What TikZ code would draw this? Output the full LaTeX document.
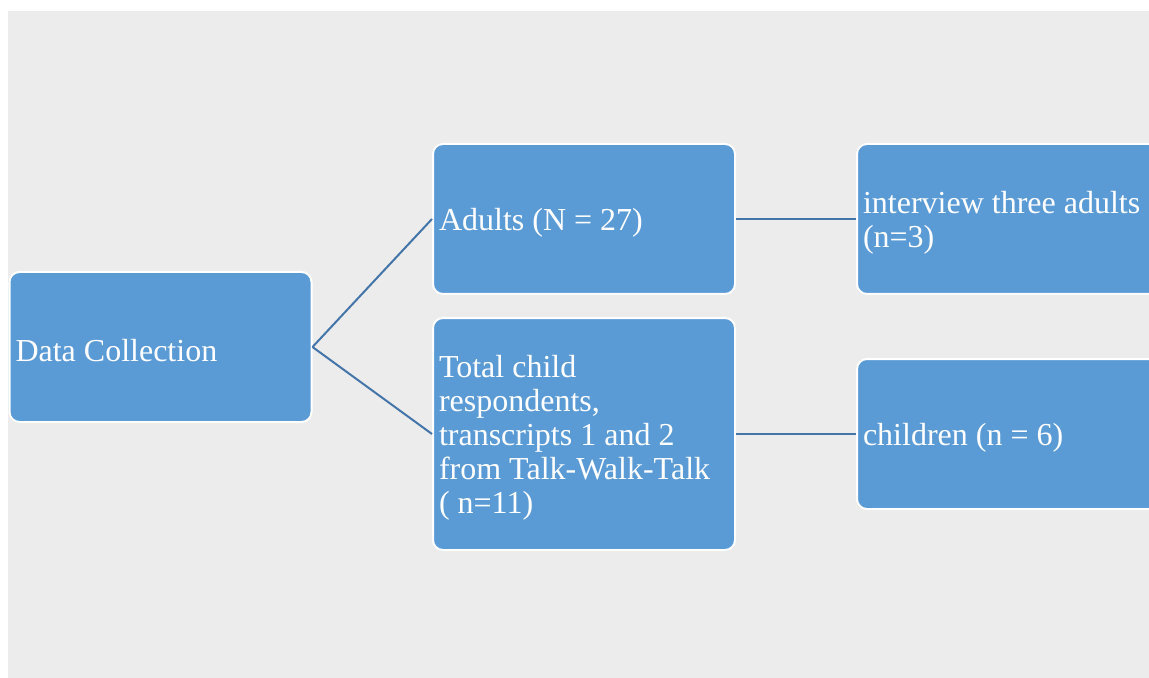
\documentclass[tikz,border=0pt]{standalone}
\usepackage{fontspec}
\setmainfont{Liberation Serif}
\definecolor{boxblue}{RGB}{91, 155, 213}
\definecolor{linkblue}{RGB}{68, 117, 168}
\definecolor{canvasgray}{RGB}{236, 236, 236}
\usetikzlibrary{positioning}

\begin{document}
\begin{tikzpicture}[x=0.5pt, y=-0.5pt,
    stagebox/.style={draw=white, line width=1pt, fill=boxblue, rounded corners=5pt,
      text=white, text width=145pt, align=flush left, inner xsep=3pt, inner ysep=0pt,
      execute at begin node={\rule{0pt}{15pt}\ignorespaces},
      minimum width=151pt, minimum height=75pt,
      font=\fontsize{16}{16.9}\selectfont},
    link/.style={draw=linkblue, line width=1pt}]
  % Canvas
  \useasboundingbox (0,0) rectangle (1149,678);
  \fill[canvasgray] (8,11) rectangle (1149,678);

  % Root
  \node[stagebox] (collect) at (160.5, 347) {Data Collection};

  % Middle column
  \node[stagebox] (adults) at (584, 219) {Adults (N = 27)};
  \node[stagebox, minimum height=116pt] (childtotal) at (584, 434) {
    Total child\\
    respondents,\\
    transcripts 1 and 2\\
    from Talk-Walk-Talk\\
    ( n=11)
  };

  % Right column
  \node[stagebox] (interview) at (1008, 219) {interview three adults\\(n=3)};
  \node[stagebox] (children) at (1008, 434) {children (n = 6)};

  % Links
  \draw[link] (collect.east) -- (adults.west);
  \draw[link] (collect.east) -- (childtotal.west);
  \draw[link] (adults.east) -- (interview.west);
  \draw[link] (childtotal.east) -- (children.west);
\end{tikzpicture}
\end{document}
